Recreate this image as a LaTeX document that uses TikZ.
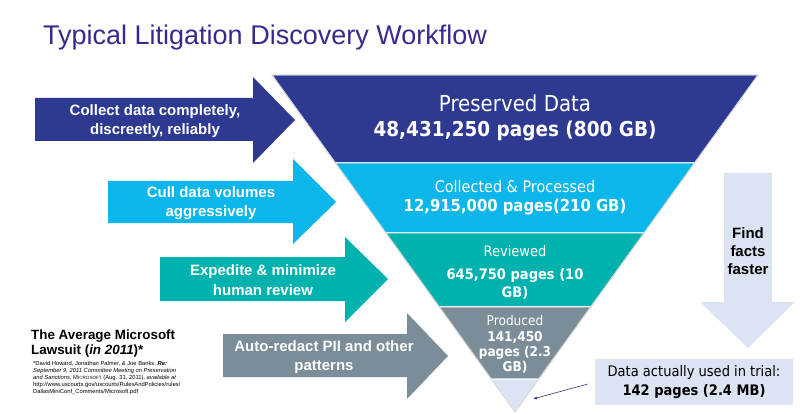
\documentclass[tikz,border=0pt]{standalone}
\usepackage{fontspec}
\setmainfont{Liberation Sans}
\newfontfamily\tahoma[FakeStretch=0.9]{DejaVu Sans}
\usepackage{tikz}
\usetikzlibrary{
    arrows.meta,
    positioning,
    calc
}
\definecolor{TitlePurple}{RGB}{60,40,140}
\definecolor{FunnelNavy}{RGB}{46,57,145}
\definecolor{FunnelSky}{RGB}{10,182,234}
\definecolor{FunnelTeal}{RGB}{0,178,173}
\definecolor{FunnelSlate}{RGB}{122,141,153}
\definecolor{FunnelPale}{RGB}{220,227,243}

\begin{document}
\begin{tikzpicture}[
    x=1pt, y=-1pt,
    >=Latex,
    armtext/.style={text=white, align=center,
        font=\fontsize{15}{19.5}\selectfont\bfseries},
    layer/.style={draw=white, line width=1pt},
    layertext/.style={text=white, align=center, font=\tahoma}
]

\useasboundingbox (0,0) rectangle (800,414);

\node[anchor=base west, text=TitlePurple, inner sep=0pt,
    font=\fontsize{27}{30}\selectfont]
    (title) at (43,45) {Typical Litigation Discovery Workflow};

\coordinate (TL) at (272,75);
\coordinate (TR) at (758,75);
\coordinate (Tip) at (515,412);

\coordinate (L1) at ($(TL)!0.2611!(Tip)$);
\coordinate (R1) at ($(TR)!0.2611!(Tip)$);
\coordinate (L2) at ($(TL)!0.4688!(Tip)$);
\coordinate (R2) at ($(TR)!0.4688!(Tip)$);
\coordinate (L3) at ($(TL)!0.6884!(Tip)$);
\coordinate (R3) at ($(TR)!0.6884!(Tip)$);
\coordinate (L4) at ($(TL)!0.9021!(Tip)$);
\coordinate (R4) at ($(TR)!0.9021!(Tip)$);

\fill[FunnelNavy, layer] (TL) -- (TR) -- (R1) -- (L1) -- cycle;
\fill[FunnelSky, layer] (L1) -- (R1) -- (R2) -- (L2) -- cycle;
\fill[FunnelTeal, layer] (L2) -- (R2) -- (R3) -- (L3) -- cycle;
\fill[FunnelSlate, layer] (L3) -- (R3) -- (R4) -- (L4) -- cycle;
\fill[FunnelPale, layer] (L4) -- (R4) -- (Tip) -- cycle;
\draw[gray!45, line width=0.6pt] (TL) -- (TR) -- (Tip) -- cycle;

\node[layertext, font=\tahoma\fontsize{22}{25}\selectfont]
    (preserved) at (515,118)
    {Preserved Data\\\fontsize{20.5}{25}\selectfont\textbf{48,431,250 pages (800 GB)}};

\node[layertext, font=\tahoma\fontsize{16}{19}\selectfont]
    (collected) at (515,198)
    {Collected \& Processed\\\fontsize{16.5}{19}\selectfont\textbf{12,915,000 pages(210 GB)}};

\node[layertext, font=\tahoma\fontsize{14.5}{20}\selectfont]
    (reviewed) at (515,272)
    {Reviewed\\[3pt]\textbf{645,750 pages (10}\\[-2pt]\textbf{GB)}};

\node[layertext, font=\tahoma\fontsize{13.5}{15}\selectfont]
    (produced) at (515,344)
    {Produced\\[1pt]\textbf{141,450}\\\textbf{pages (2.3}\\\textbf{GB)}};

\fill[FunnelNavy]
    (35,98) -- (253,98) -- (253,77) -- (295,120)
    -- (253,163) -- (253,141) -- (35,141) -- cycle;
\node[armtext] (collect) at (155,121)
    {Collect data completely,\\discreetly, reliably};

\fill[FunnelSky]
    (108,181) -- (293,181) -- (293,159) -- (336,202)
    -- (293,244) -- (293,223) -- (108,223) -- cycle;
\node[armtext] (cull) at (211,203)
    {Cull data volumes\\aggressively};

\fill[FunnelTeal]
    (160,257) -- (345,257) -- (345,237) -- (388,279)
    -- (345,322) -- (345,301) -- (160,301) -- cycle;
\node[armtext] (expedite) at (263,280)
    {Expedite \& minimize\\human review};

\fill[FunnelSlate]
    (223,334) -- (407,334) -- (407,313) -- (448,356)
    -- (407,399) -- (407,377) -- (223,377) -- cycle;
\node[armtext] (redact) at (324,357)
    {Auto-redact PII and other\\patterns};

\fill[FunnelPale]
    (724,173) -- (772,173) -- (772,302) -- (795,302)
    -- (748,348) -- (700,302) -- (724,302) -- cycle;
\node[align=center, font=\fontsize{15}{18}\selectfont\bfseries]
    (faster) at (748,251) {Find\\facts\\faster};

\node[fill=FunnelPale, minimum width=198pt, minimum height=46pt,
    inner sep=0pt, align=center, font=\tahoma\fontsize{14.5}{18.5}\selectfont]
    (trial) at (694,382)
    {Data actually used in trial:\\\textbf{142 pages (2.4 MB)}};

\coordinate (bottom) at (533,399);
\draw[->, TitlePurple, line width=0.6pt, >={Latex[length=4pt,width=3pt]}]
    ([xshift=-7pt, yshift=-2pt]trial.west) -- (bottom);

\node[anchor=north west, align=left, inner sep=0pt,
    font=\fontsize{13.4}{15}\selectfont\bfseries]
    (lawsuit) at (31,330)
    {The Average Microsoft\\Lawsuit (\textit{in 2011})*};

\node[anchor=north west, align=left, inner sep=0pt,
    font=\fontsize{5.8}{7}\selectfont]
    (cite) at (33,361)
    {*David Howard, Jonathan Palmer, \& Joe Banks, \textbf{\textit{Re:}}\\
    \textit{September 9, 2011 Committee Meeting on Preservation}\\
    \textit{and Sanctions}, M{\fontsize{4.6}{7}\selectfont ICROSOFT} (Aug. 31, 2011), \textit{available at}\\
    http://www.uscourts.gov/uscourts/RulesAndPolicies/rules/\\
    DallasMiniConf\_Comments/Microsoft.pdf};

\end{tikzpicture}
\end{document}
